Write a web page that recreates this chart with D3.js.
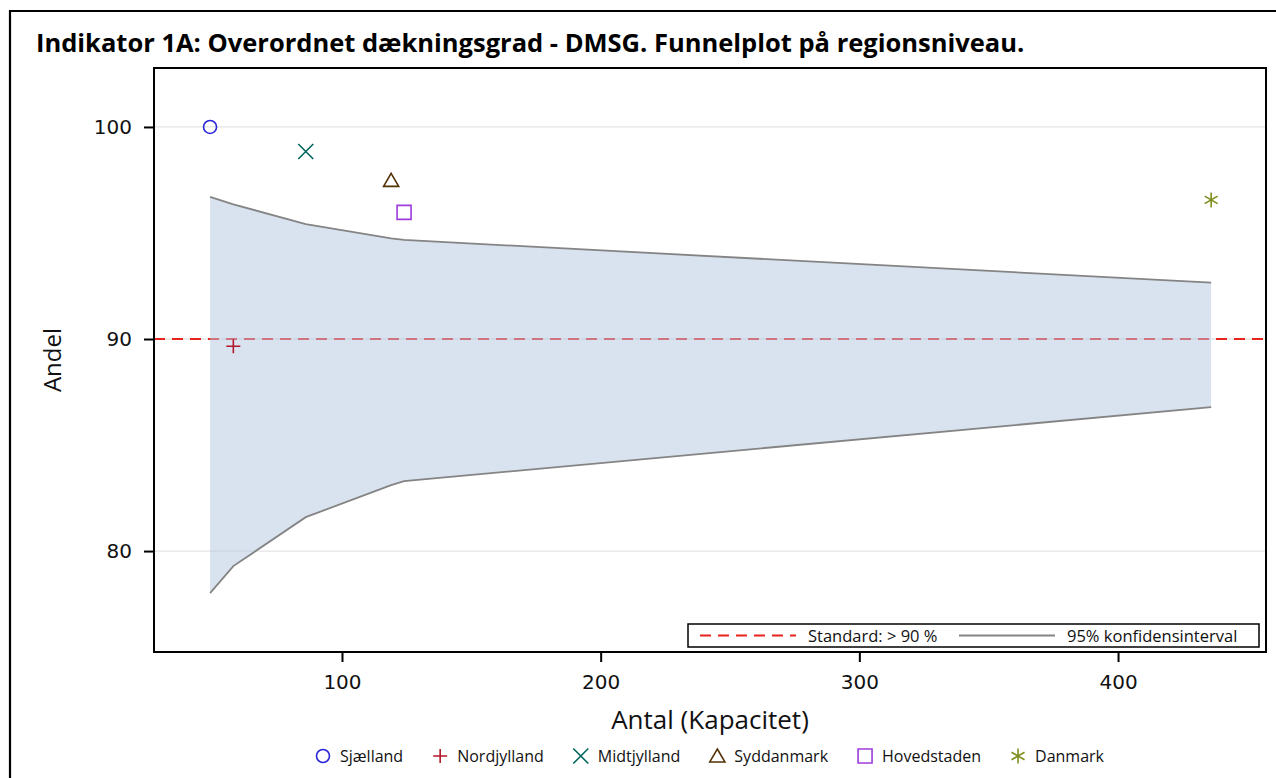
<!DOCTYPE html>
<html>
<head>
<meta charset="utf-8">
<script src="https://cdn.jsdelivr.net/npm/d3@7"></script>
<style>
  html, body { margin: 0; padding: 0; background: #fff; }
  svg { display: block; }
</style>
</head>
<body>
<svg id="chart" width="1276" height="778"></svg>
<script>
// Regions: number of patients (Antal) and share covered (Andel, %)
const categories = ["Sjælland", "Nordjylland", "Midtjylland", "Syddanmark", "Hovedstaden", "Danmark"];
const antal = [49, 58, 86, 119, 124, 436];
const andel = [100, 89.66, 98.84, 97.48, 95.97, 96.56];

// 95% control limits around the standard, evaluated at each region size
const limitN = [49, 58, 86, 119, 124, 436];
const upperLimit = [96.70, 96.35, 95.42, 94.75, 94.67, 92.66];
const lowerLimit = [78.02, 79.29, 81.60, 83.11, 83.30, 86.79];

const standard = 90;
const xTicks = [100, 200, 300, 400];
const yTicks = [80, 90, 100];

const titleText = "Indikator 1A: Overordnet dækningsgrad - DMSG. Funnelplot på regionsniveau.";
const xLabel = "Antal (Kapacitet)";
const yLabel = "Andel";
const refLegend = ["Standard: > 90 %", "95% konfidensinterval"];

const colors = ["#2A25D9", "#B2182B", "#01665E", "#543005", "#9D3CDB", "#7F8E1F"];
const shapes = ["circle", "plus", "x", "triangle", "square", "star"];

const svg = d3.select("#chart");
const plot = { left: 154, right: 1266, top: 68, bottom: 652 };
const tickFont = "'DejaVu Sans', Verdana, sans-serif";
const textFont = "'Open Sans', 'Noto Sans', sans-serif";

const x = d3.scaleLinear().domain([27.33, 457.2]).range([plot.left, plot.right]);
const y = d3.scaleLinear().domain([75.24, 102.78]).range([plot.bottom, plot.top]);

// outer frame of the figure
svg.append("path")
  .attr("d", `M10,800 L10,11 L1300,11`)
  .attr("fill", "none").attr("stroke", "#000").attr("stroke-width", 2.2);

// title
svg.append("text")
  .attr("x", 36).attr("y", 52)
  .attr("font-family", textFont).attr("font-weight", 700).attr("font-size", 25.5)
  .attr("fill", "#000")
  .text(titleText);

// gridlines
svg.append("g").selectAll("line").data(yTicks).join("line")
  .attr("x1", plot.left).attr("x2", plot.right)
  .attr("y1", d => y(d)).attr("y2", d => y(d))
  .attr("stroke", "#e4e4e4").attr("stroke-width", 1.3);

// standard reference line
svg.append("line")
  .attr("x1", plot.left).attr("x2", plot.right)
  .attr("y1", y(standard)).attr("y2", y(standard))
  .attr("stroke", "#e8221c").attr("stroke-width", 2)
  .attr("stroke-dasharray", "11,7");

// funnel band (translucent, on top of the reference line)
const band = limitN.map((n, i) => ({ n, lo: lowerLimit[i], hi: upperLimit[i] }));
svg.append("path")
  .datum(band)
  .attr("d", d3.area().x(d => x(d.n)).y0(d => y(d.lo)).y1(d => y(d.hi)))
  .attr("fill", "#b3c8e2").attr("fill-opacity", 0.5);

const limitLine = key => d3.line().x(d => x(d.n)).y(d => y(d[key]));
["hi", "lo"].forEach(k => {
  svg.append("path").datum(band)
    .attr("d", limitLine(k))
    .attr("fill", "none").attr("stroke", "#848484").attr("stroke-width", 1.8);
});

// marker symbols
function markerPath(shape, s) {
  const h = s / 2;
  switch (shape) {
    case "circle": return `M${h},0 A${h},${h} 0 1,1 ${-h},0 A${h},${h} 0 1,1 ${h},0 Z`;
    case "plus": return `M${-h},0 L${h},0 M0,${-h} L0,${h}`;
    case "x": return `M${-h},${-h} L${h},${h} M${-h},${h} L${h},${-h}`;
    case "triangle": return `M0,${-h} L${h * 1.08},${h * 0.85} L${-h * 1.08},${h * 0.85} Z`;
    case "square": return `M${-h},${-h} L${h},${-h} L${h},${h} L${-h},${h} Z`;
    case "star": {
      const a = h * Math.cos(Math.PI / 6), b = h * Math.sin(Math.PI / 6);
      return `M0,${-h} L0,${h} M${-a},${-b} L${a},${b} M${-a},${b} L${a},${-b}`;
    }
  }
}
const markerSize = [13, 14, 15, 14, 14, 15];

const pts = categories.map((c, i) => ({ c, n: antal[i], p: andel[i], i }));
svg.append("g").selectAll("path").data(pts).join("path")
  .attr("transform", d => `translate(${x(d.n)},${y(d.p)})`)
  .attr("d", d => markerPath(shapes[d.i], markerSize[d.i]))
  .attr("fill", "none")
  .attr("stroke", d => colors[d.i])
  .attr("stroke-width", 1.6);

// axes
const xAxis = svg.append("g")
  .attr("transform", `translate(0,${plot.bottom})`)
  .call(d3.axisBottom(x).tickValues(xTicks).tickSize(10).tickPadding(9).tickFormat(d3.format("d")));
const yAxis = svg.append("g")
  .attr("transform", `translate(${plot.left},0)`)
  .call(d3.axisLeft(y).tickValues(yTicks).tickSize(10).tickPadding(12).tickFormat(d3.format("d")));
[xAxis, yAxis].forEach(g => {
  g.select(".domain").remove();
  g.selectAll(".tick line").attr("stroke", "#000").attr("stroke-width", 2);
  g.selectAll(".tick text").attr("font-family", tickFont).attr("font-size", 20).attr("fill", "#111");
});
xAxis.selectAll(".tick text").attr("dy", "0.9em");

// plot frame
svg.append("rect")
  .attr("x", plot.left).attr("y", plot.top)
  .attr("width", plot.right - plot.left).attr("height", plot.bottom - plot.top)
  .attr("fill", "none").attr("stroke", "#000").attr("stroke-width", 2);

// axis titles
svg.append("text")
  .attr("x", (plot.left + plot.right) / 2).attr("y", 729)
  .attr("text-anchor", "middle")
  .attr("font-family", textFont).attr("font-size", 26).attr("fill", "#111")
  .text(xLabel);
svg.append("text")
  .attr("transform", `translate(61,${(plot.top + plot.bottom) / 2}) rotate(-90)`)
  .attr("text-anchor", "middle")
  .attr("font-family", textFont).attr("font-size", 24).attr("fill", "#111")
  .text(yLabel);

// inner legend for reference line and limits
const lg = svg.append("g");
lg.append("rect")
  .attr("x", 688).attr("y", 624).attr("width", 571).attr("height", 23)
  .attr("fill", "#fff").attr("stroke", "#000").attr("stroke-width", 1.5);
lg.append("line")
  .attr("x1", 700).attr("x2", 796).attr("y1", 635.5).attr("y2", 635.5)
  .attr("stroke", "#e8221c").attr("stroke-width", 2).attr("stroke-dasharray", "11,7");
lg.append("text")
  .attr("x", 808).attr("y", 641.5)
  .attr("font-family", textFont).attr("font-size", 16.5).attr("fill", "#111")
  .text(refLegend[0]);
lg.append("line")
  .attr("x1", 959).attr("x2", 1055).attr("y1", 635.5).attr("y2", 635.5)
  .attr("stroke", "#848484").attr("stroke-width", 1.8);
lg.append("text")
  .attr("x", 1067).attr("y", 641.5)
  .attr("font-family", textFont).attr("font-size", 16.5).attr("fill", "#111")
  .text(refLegend[1]);

// bottom legend for the regions, centred under the plot
const bl = svg.append("g");
let cursor = 0;
const gap = 30;
categories.forEach((c, i) => {
  const g = bl.append("g");
  g.append("path")
    .attr("transform", `translate(${cursor + 7},0)`)
    .attr("d", markerPath(shapes[i], markerSize[i]))
    .attr("fill", "none").attr("stroke", colors[i]).attr("stroke-width", 1.6);
  const t = g.append("text")
    .attr("x", cursor + 24).attr("y", 6)
    .attr("font-family", textFont).attr("font-size", 16).attr("fill", "#111")
    .text(c);
  cursor += 24 + t.node().getComputedTextLength() + gap;
});
const totalW = cursor - gap;
bl.attr("transform", `translate(${(plot.left + plot.right) / 2 - totalW / 2},756)`);
</script>
</body>
</html>
